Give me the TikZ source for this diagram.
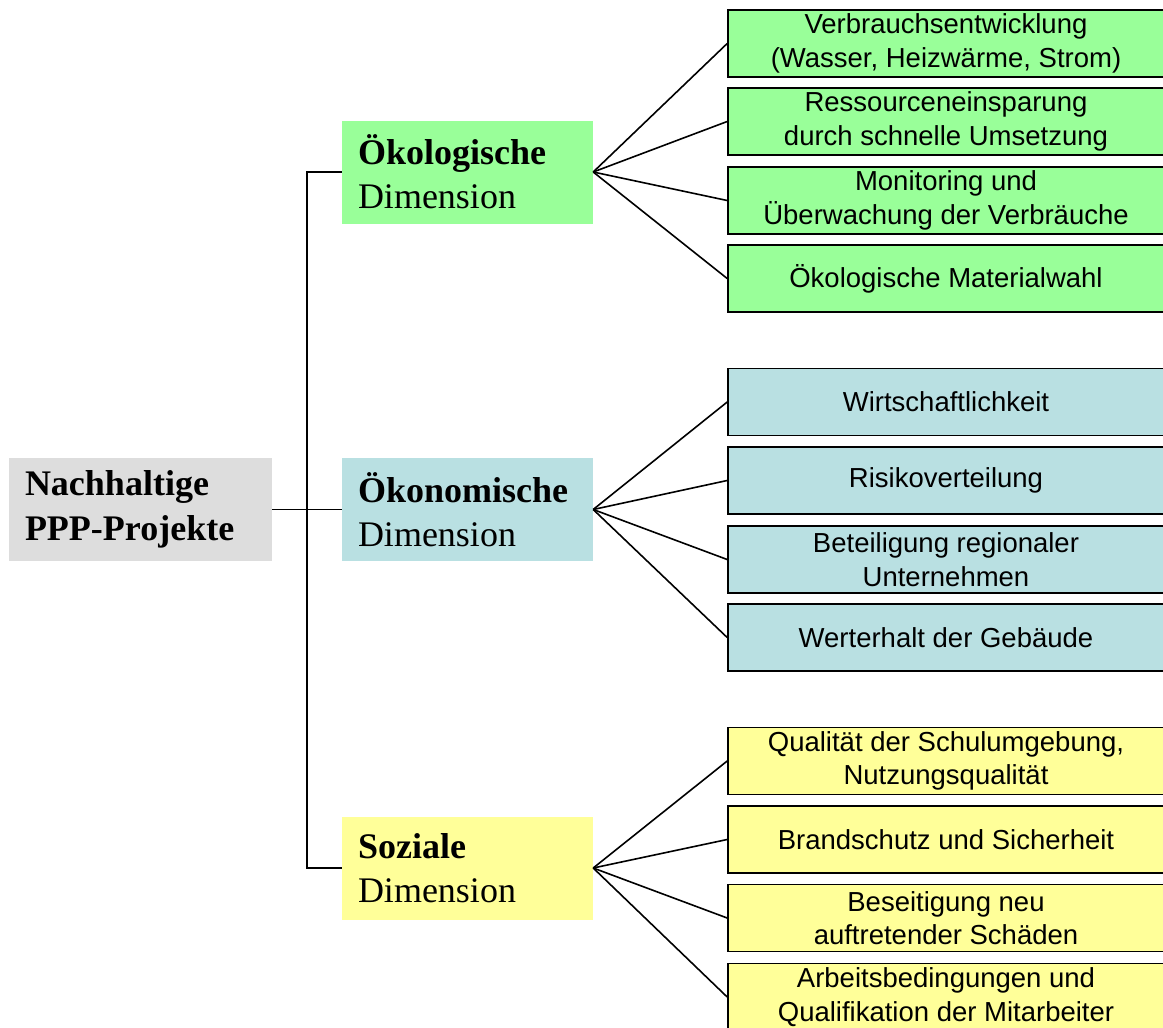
\documentclass[tikz,border=0pt]{standalone}
\usepackage{fontspec}
\setmainfont{Liberation Serif}
\newfontfamily\arialf{Liberation Sans}
\definecolor{rootgray}{HTML}{DDDDDD}
\definecolor{ecogreen}{HTML}{99FF99}
\definecolor{econblue}{HTML}{B9E0E2}
\definecolor{socyellow}{HTML}{FFFF99}
\tikzset{
  rootbox/.style={fill=rootgray, minimum height=103pt, text width=231pt, inner xsep=16pt, inner ysep=0pt, align=left, font=\fontsize{36}{45}\selectfont\bfseries},
  dimbox/.style={minimum height=103pt, text width=219pt, inner xsep=16pt, inner ysep=0pt, align=left, font=\fontsize{36}{44}\selectfont},
  leafbox/.style={draw=black, line width=1.6pt, minimum height=67pt, minimum width=436pt, inner sep=0pt, align=center, font=\arialf\fontsize{27.5}{33.5}\selectfont},
  conn/.style={line width=1.6pt, black}
}
\begin{document}
\begin{tikzpicture}[x=1pt,y=-1pt]
\useasboundingbox (0,0) rectangle (1163,1028);
\clip (0,0) rectangle (1163,1028);
% root
\node[rootbox] (root) at (140.5,509.5) {Nachhaltige\\PPP-Projekte};
% dimensions
\node[dimbox, fill=ecogreen] (dim1) at (467.5,172) {\textbf{Ökologische}\\Dimension};
\node[dimbox, fill=econblue] (dim2) at (467.5,509.5) {\textbf{Ökonomische}\\Dimension};
\node[dimbox, fill=socyellow] (dim3) at (467.5,868) {\textbf{Soziale}\\Dimension};
% leaves
\node[leafbox, fill=ecogreen] (l11) at (946,43.5) {Verbrauchsentwicklung\\(Wasser, Heizwärme, Strom)};
\node[leafbox, fill=ecogreen] (l12) at (946,121.5) {Ressourceneinsparung\\durch schnelle Umsetzung};
\node[leafbox, fill=ecogreen] (l13) at (946,200.5) {Monitoring und\\Überwachung der Verbräuche};
\node[leafbox, fill=ecogreen] (l14) at (946,278.5) {Ökologische Materialwahl};
\node[leafbox, fill=econblue] (l21) at (946,402) {Wirtschaftlichkeit};
\node[leafbox, fill=econblue] (l22) at (946,480.5) {Risikoverteilung};
\node[leafbox, fill=econblue] (l23) at (946,559.5) {Beteiligung regionaler\\Unternehmen};
\node[leafbox, fill=econblue] (l24) at (946,637.5) {Werterhalt der Gebäude};
\node[leafbox, fill=socyellow] (l31) at (946,761) {Qualität der Schulumgebung,\\Nutzungsqualität};
\node[leafbox, fill=socyellow] (l32) at (946,839.5) {Brandschutz und Sicherheit};
\node[leafbox, fill=socyellow] (l33) at (946,918) {Beseitigung neu\\auftretender Schäden};
\node[leafbox, fill=socyellow] (l34) at (946,997) {Arbeitsbedingungen und\\Qualifikation der Mitarbeiter};
% trunk
\coordinate (trunk) at (307,0);
\draw[conn] (root.east) -- (root.east -| trunk);
\draw[conn] (dim1.west) -- (dim1.west -| trunk) -- (dim3.west -| trunk) -- (dim3.west);
\draw[conn] (dim2.west -| trunk) -- (dim2.west);
% fans
\foreach \d in {1,2,3}{
  \foreach \l in {1,2,3,4}{
    \draw[conn] (dim\d.east) -- (l\d\l.west);
  }
}
\end{tikzpicture}
\end{document}
